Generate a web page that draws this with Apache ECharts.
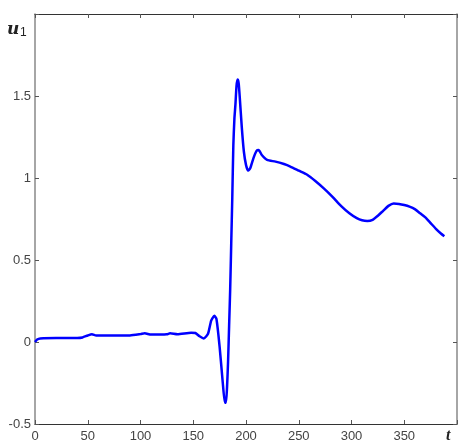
<!DOCTYPE html>
<html><head><meta charset="utf-8">
<script src="https://cdn.jsdelivr.net/npm/echarts@6/dist/echarts.min.js"></script>
<style>html,body{margin:0;padding:0;background:#fff}#c{width:460px;height:445px}</style>
</head><body><div id="c"></div>
<script>
const tValues = [0,2,5,20,40,45,50,54,58,70,90,100,104,110,125,128,135,148,152,156,160,164,167,170,172,175,178,180,181,182,183,184,185,186,187,188,189,190,191,192,193,194,196,198,200,202,204,207,210,212,215,220,228,236,242,250,258,266,274,282,290,298,305,310,315,320,325,330,335,340,345,350,355,360,365,370,375,380,385,388];
const uValues = [0.0,0.015,0.022,0.025,0.025,0.028,0.04,0.047,0.04,0.04,0.04,0.048,0.053,0.045,0.047,0.053,0.047,0.057,0.055,0.035,0.022,0.05,0.13,0.16,0.14,-0.03,-0.25,-0.37,-0.37,-0.28,-0.12,0.1,0.32,0.6,0.88,1.2,1.36,1.45,1.56,1.60,1.58,1.5,1.31,1.16,1.08,1.045,1.06,1.12,1.165,1.17,1.14,1.11,1.10,1.085,1.07,1.045,1.02,0.98,0.935,0.885,0.83,0.785,0.755,0.742,0.738,0.745,0.77,0.80,0.83,0.845,0.842,0.835,0.825,0.81,0.785,0.76,0.725,0.69,0.66,0.645];
const xTicks = [0,50,100,150,200,250,300,350];
const yTicks = [-0.5,0,0.5,1,1.5];

const chart = echarts.init(document.getElementById('c'));
const lblFont = {fontFamily:"'Liberation Sans Narrow','Arial Narrow','Liberation Sans',Arial,sans-serif",fontSize:13,color:'#444'};
const data = tValues.map((t,i)=>[t,uValues[i]]);
chart.setOption({
  animation:false,
  backgroundColor:'#fff',
  grid:{left:35,right:3,top:14,bottom:21,containLabel:false},
  xAxis:[{
    type:'value',min:0,max:400,interval:50,position:'bottom',
    axisLine:{show:true,onZero:false,lineStyle:{color:'#333',width:1.2}},
    axisTick:{show:true,inside:true,length:4,lineStyle:{color:'#555'}},
    axisLabel:Object.assign({margin:6,formatter:v=>xTicks.includes(v)?String(v):''},lblFont),
    splitLine:{show:false}
  },{
    type:'value',min:0,max:400,interval:50,position:'top',
    axisLine:{show:true,onZero:false,lineStyle:{color:'#333',width:1.2}},
    axisTick:{show:true,inside:true,length:4,lineStyle:{color:'#555'}},
    axisLabel:{show:false},splitLine:{show:false}
  }],
  yAxis:[{
    type:'value',min:-0.5,max:2,interval:0.5,position:'left',
    axisLine:{show:true,onZero:false,lineStyle:{color:'#888',width:1.5}},
    axisTick:{show:true,inside:true,length:4,lineStyle:{color:'#555'}},
    axisLabel:Object.assign({margin:4,formatter:v=>yTicks.includes(v)?String(v):''},lblFont),
    splitLine:{show:false}
  },{
    type:'value',min:-0.5,max:2,interval:0.5,position:'right',
    axisLine:{show:true,onZero:false,lineStyle:{color:'#888',width:1.5}},
    axisTick:{show:true,inside:true,length:4,lineStyle:{color:'#555'}},
    axisLabel:{show:false},splitLine:{show:false}
  }],
  series:[{
    type:'line',data:data,xAxisIndex:0,yAxisIndex:0,
    showSymbol:false,smooth:0.2,
    lineStyle:{color:'#0000ff',width:2.5},
    clip:false
  }],
  graphic:[
    {type:'text',x:7,y:21,style:{text:'u',fontFamily:"'DejaVu Serif','Liberation Serif',serif",fontStyle:'italic',fontWeight:'bold',fontSize:17,fill:'#222',verticalAlign:'alphabetic'}},
    {type:'text',x:20,y:27,style:{text:'1',fontFamily:"'Liberation Sans',Arial,sans-serif",fontSize:12,fill:'#222',verticalAlign:'alphabetic'}},
    {type:'text',left:446,top:428,style:{text:'t',fontFamily:"'Liberation Serif',serif",fontStyle:'italic',fontWeight:'bold',fontSize:16,fill:'#222'}}
  ]
});
</script></body></html>
